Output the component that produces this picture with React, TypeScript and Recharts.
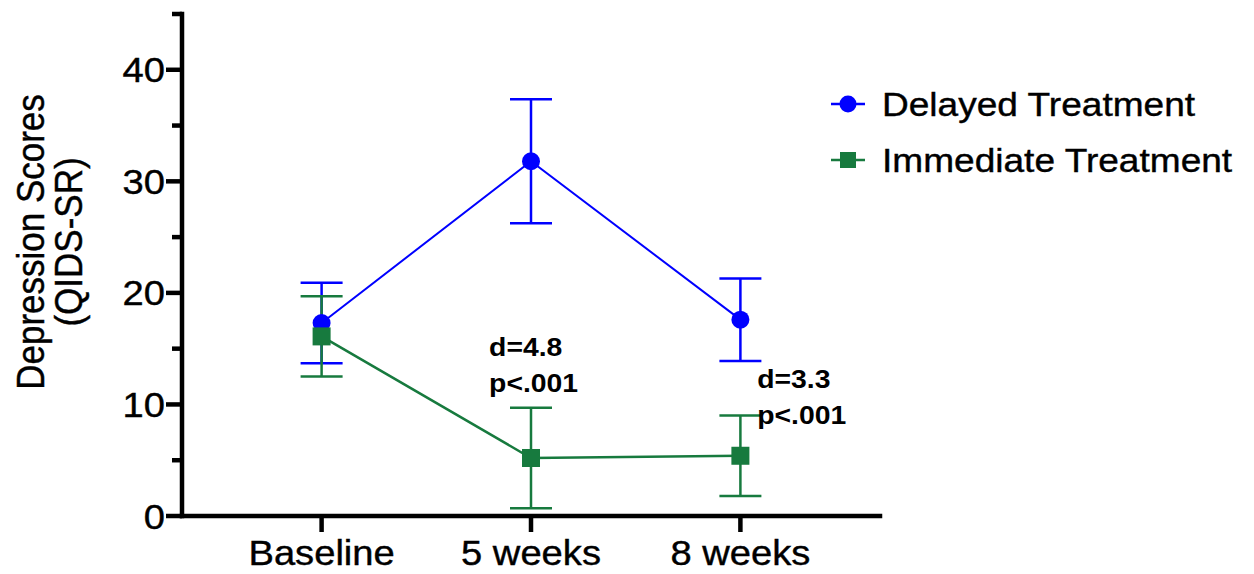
import { LineChart, Line, XAxis, YAxis, ErrorBar, ReferenceDot } from 'recharts';

const timepoints = ['Baseline', '5 weeks', '8 weeks'];
const delayedMean = [17.3, 31.8, 17.6];
const delayedErr = [3.6, 5.55, 3.7];
const immediateMean = [16.1, 5.2, 5.4];
const immediateErr = [3.6, 4.5, 3.6];
const yTicks = [0, 5, 10, 15, 20, 25, 30, 35, 40, 45];

// effect size notes: anchored in data coords (x = timepoint index)
const notes = [
  { x: 0.8, y: 14.3, lines: ['d=4.8', 'p<.001'] },
  { x: 2.08, y: 11.5, lines: ['d=3.3', 'p<.001'] },
];

const BLUE = '#0000FF';
const GREEN = '#177A3E';
const FONT = '"Liberation Sans", Arial, Helvetica, sans-serif';
const SX = 1.09; // source figure is slightly wide

const data = timepoints.map((t, i) => ({
  x: i,
  label: t,
  delayed: delayedMean[i],
  delayedErr: delayedErr[i],
  immediate: immediateMean[i],
  immediateErr: immediateErr[i],
}));

const series = [
  { key: 'delayed', name: 'Delayed Treatment', color: BLUE, shape: 'circle' },
  { key: 'immediate', name: 'Immediate Treatment', color: GREEN, shape: 'square' },
];

const YTick = (props: any) => {
  const { x, y, payload } = props;
  const axisX = x + 18;
  const major = payload.value % 10 === 0;
  return (
    <g>
      <line x1={axisX - (major ? 16 : 10)} x2={axisX} y1={y} y2={y} stroke="#000" strokeWidth={4.5} />
      {major && (
        <text transform={`translate(${axisX - 17},${y}) scale(${SX},1)`} textAnchor="end" dy="0.36em" fontSize={35} fill="#000" stroke="#000" strokeWidth={0.4} fontFamily={FONT}>
          {payload.value}
        </text>
      )}
    </g>
  );
};

const XTick = (props: any) => {
  const { x, y, payload } = props;
  return (
    <text transform={`translate(${x},${y}) scale(${SX},1)`} textAnchor="middle" dy={25} fontSize={35} fill="#000" stroke="#000" strokeWidth={0.4} fontFamily={FONT}>
      {timepoints[payload.value]}
    </text>
  );
};

const Circle = (props: any) => {
  const { cx, cy } = props;
  if (cx == null || cy == null) return null;
  return <circle cx={cx} cy={cy} r={9} fill={BLUE} />;
};

const Square = (props: any) => {
  const { cx, cy } = props;
  if (cx == null || cy == null) return null;
  return <rect x={cx - 9} y={cy - 9} width={18} height={18} fill={GREEN} />;
};

const YLabel = (props: any) => {
  const vb = props.viewBox || {};
  const cy = (vb.y ?? 0) + 228;
  return (
    <g fontFamily={FONT} fontSize={35} fill="#000" stroke="#000" strokeWidth={0.4}>
      <text transform={`translate(22,${cy}) rotate(-90) scale(1,${SX})`} textAnchor="middle" dy="0.36em">Depression Scores</text>
      <text transform={`translate(60,${cy}) rotate(-90) scale(1,${SX})`} textAnchor="middle" dy="0.36em">(QIDS-SR)</text>
    </g>
  );
};

function Legend() {
  return (
    <div style={{ position: 'absolute', left: 820, top: 68, fontFamily: FONT, fontSize: 34, color: '#000', WebkitTextStroke: '0.4px #000' }}>
      {series.map((s) => (
        <div key={s.key} style={{ display: 'flex', alignItems: 'center', height: 56 }}>
          <svg width={40} height={30} style={{ marginRight: 14 }}>
            <line x1={3} x2={37} y1={15} y2={15} stroke={s.color} strokeWidth={2.5} />
            {s.shape === 'circle' ? <circle cx={20} cy={15} r={8.5} fill={s.color} /> : <rect x={12} y={7} width={16} height={16} fill={s.color} />}
          </svg>
          <span style={{ display: 'inline-block', transform: `scaleX(${SX})`, transformOrigin: 'left center', whiteSpace: 'nowrap' }}>{s.name}</span>
        </div>
      ))}
    </div>
  );
}

export default function App() {
  return (
    <div style={{ position: 'relative', width: 1238, height: 566, background: '#fff' }}>
      <LineChart width={1238} height={566} data={data} margin={{ top: 6, right: 366, bottom: 8, left: 0 }} style={{ overflow: 'visible' }}>
        <XAxis
          type="number"
          dataKey="x"
          domain={[-2 / 3, 8 / 3]}
          ticks={[0, 1, 2]}
          allowDataOverflow
          height={50}
          tick={<XTick />}
          tickSize={16}
          tickMargin={8}
          tickLine={{ stroke: '#000', strokeWidth: 4.5 }}
          axisLine={{ stroke: '#000', strokeWidth: 4.5, strokeLinecap: 'square' }}
        />
        <YAxis
          type="number"
          domain={[0, 45]}
          ticks={yTicks}
          interval={0}
          width={174}
          tick={<YTick />}
          tickSize={16}
          tickMargin={2}
          tickLine={false}
          axisLine={{ stroke: '#000', strokeWidth: 4.5, strokeLinecap: 'square' }}
          label={<YLabel />}
        />
        <Line dataKey="delayed" name="Delayed Treatment" stroke={BLUE} strokeWidth={2} dot={<Circle />} activeDot={false} isAnimationActive={false}>
          <ErrorBar dataKey="delayedErr" direction="y" width={21} stroke={BLUE} strokeWidth={2.5} />
        </Line>
        <Line dataKey="immediate" name="Immediate Treatment" stroke={GREEN} strokeWidth={2.5} dot={<Square />} activeDot={false} isAnimationActive={false}>
          <ErrorBar dataKey="immediateErr" direction="y" width={21} stroke={GREEN} strokeWidth={2.5} />
        </Line>
        {notes.map((n, i) => (
          <ReferenceDot
            key={i}
            x={n.x}
            y={n.y}
            r={0}
            ifOverflow="visible"
            shape={(p: any) => (
              <text transform={`translate(${p.cx},${p.cy}) scale(${SX},1)`} fontFamily={FONT} fontSize={26} fontWeight="bold" fill="#000">
                {n.lines.map((l, j) => (
                  <tspan key={j} x={0} y={j * 36}>{l}</tspan>
                ))}
              </text>
            )}
          />
        ))}
      </LineChart>
      <Legend />
    </div>
  );
}
